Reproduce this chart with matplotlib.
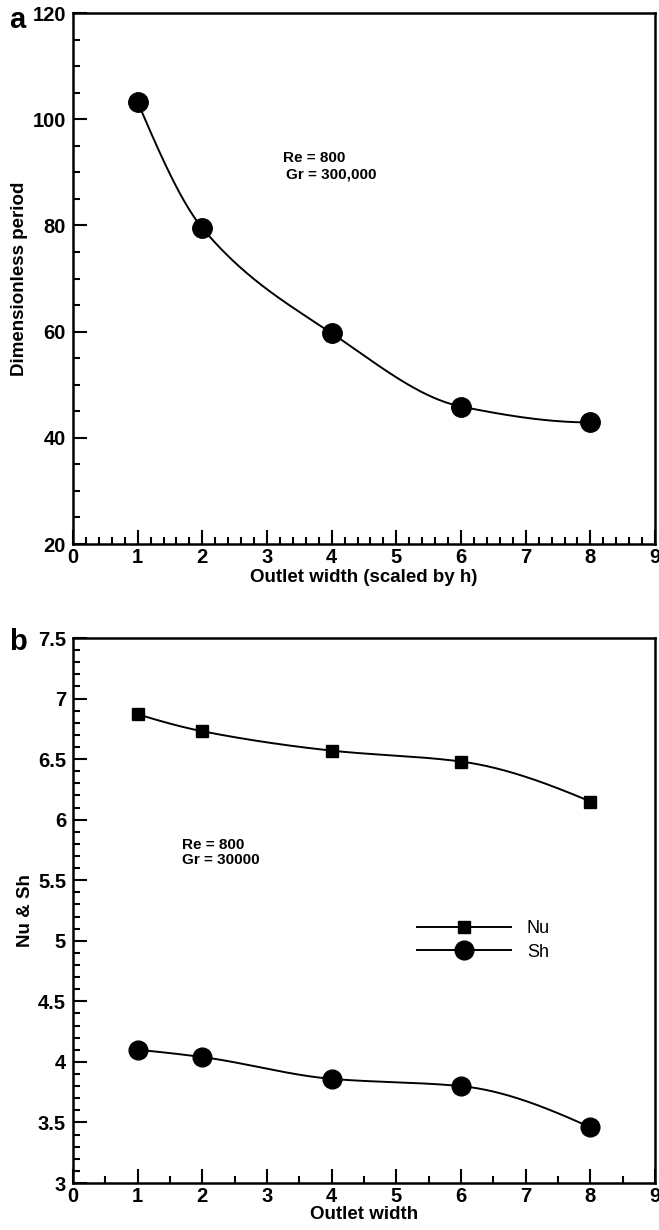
import numpy as np
import matplotlib
matplotlib.use("Agg")
import matplotlib.pyplot as plt
from matplotlib.ticker import MultipleLocator, FormatStrFormatter
from matplotlib.lines import Line2D

plt.rcParams['font.family'] = ['Liberation Sans', 'DejaVu Sans']
plt.rcParams['font.weight'] = 'bold'

# ---- data ----
outlet_width = [1, 2, 4, 6, 8]
period = [103.2, 79.5, 59.7, 45.9, 42.9]
nu = [6.87, 6.73, 6.57, 6.48, 6.15]
sh = [4.10, 4.04, 3.86, 3.80, 3.46]


def pchip(x, y, n=300):
    x = np.asarray(x, float)
    y = np.asarray(y, float)
    h = np.diff(x)
    d = np.diff(y) / h
    k = len(x)
    m = np.zeros(k)
    for i in range(1, k - 1):
        if d[i - 1] * d[i] <= 0:
            m[i] = 0
        else:
            w1 = 2 * h[i] + h[i - 1]
            w2 = h[i] + 2 * h[i - 1]
            m[i] = (w1 + w2) / (w1 / d[i - 1] + w2 / d[i])
    m[0] = ((2 * h[0] + h[1]) * d[0] - h[0] * d[1]) / (h[0] + h[1])
    if np.sign(m[0]) != np.sign(d[0]):
        m[0] = 0
    m[-1] = ((2 * h[-1] + h[-2]) * d[-1] - h[-1] * d[-2]) / (h[-1] + h[-2])
    if np.sign(m[-1]) != np.sign(d[-1]):
        m[-1] = 0
    xs = np.linspace(x[0], x[-1], n)
    ys = np.empty_like(xs)
    for j, t in enumerate(xs):
        i = min(np.searchsorted(x, t, side='right') - 1, k - 2)
        s = (t - x[i]) / h[i]
        h00 = 2 * s ** 3 - 3 * s ** 2 + 1
        h10 = s ** 3 - 2 * s ** 2 + s
        h01 = -2 * s ** 3 + 3 * s ** 2
        h11 = s ** 3 - s ** 2
        ys[j] = h00 * y[i] + h10 * h[i] * m[i] + h01 * y[i + 1] + h11 * h[i] * m[i + 1]
    return xs, ys


fig = plt.figure(figsize=(6.59, 12.30), dpi=100)
ax1 = fig.add_axes([0.1108, 0.5577, 0.8832, 0.4317])
ax2 = fig.add_axes([0.1108, 0.0382, 0.8832, 0.4431])

for ax in (ax1, ax2):
    for s in ax.spines.values():
        s.set_linewidth(1.8)
    ax.tick_params(which='both', direction='in', width=1.5, labelsize=14.5, pad=5)
    ax.tick_params(which='major', length=10)
    ax.tick_params(which='minor', length=5)
    ax.tick_params(axis='x', pad=3)
    ax.set_xlim(0, 9)
    ax.xaxis.set_major_locator(MultipleLocator(1))

# ---- panel a ----
xs, ys = pchip(outlet_width, period)
ax1.plot(xs, ys, color='black', lw=1.4)
ax1.plot(outlet_width, period, 'o', color='black', ms=14)
ax1.set_ylim(20, 120)
ax1.yaxis.set_major_locator(MultipleLocator(20))
ax1.yaxis.set_minor_locator(MultipleLocator(5))
ax1.xaxis.set_minor_locator(MultipleLocator(0.2))
ax1.set_xlabel('Outlet width (scaled by h)', fontsize=13.5, fontweight='bold', labelpad=1)
ax1.set_ylabel('Dimensionless period', fontsize=13.5, fontweight='bold', labelpad=3)
ax1.text(3.25, 92.7, 'Re = 800', fontsize=11, fontweight='bold', va='center', ha='left')
ax1.text(3.3, 89.5, 'Gr = 300,000', fontsize=11, fontweight='bold', va='center', ha='left')
fig.text(9 / 659, 1 - 28 / 1230, 'a', fontsize=21, fontweight='bold', ha='left', va='baseline')

# ---- panel b ----
xs, ys = pchip(outlet_width, nu)
ax2.plot(xs, ys, color='black', lw=1.4)
ax2.plot(outlet_width, nu, 's', color='black', ms=8.5)
xs, ys = pchip(outlet_width, sh)
ax2.plot(xs, ys, color='black', lw=1.4)
ax2.plot(outlet_width, sh, 'o', color='black', ms=13.5)
ax2.set_ylim(3, 7.5)
ax2.yaxis.set_major_locator(MultipleLocator(0.5))
ax2.yaxis.set_minor_locator(MultipleLocator(0.1))
ax2.yaxis.set_major_formatter(FormatStrFormatter('%g'))
ax2.xaxis.set_minor_locator(MultipleLocator(0.5))
ax2.set_xlabel('Outlet width', fontsize=13.5, fontweight='bold', labelpad=0)
ax2.set_ylabel('Nu & Sh', fontsize=13.5, fontweight='bold', labelpad=3)
ax2.text(1.69, 5.79, 'Re = 800', fontsize=11, fontweight='bold', va='center', ha='left')
ax2.text(1.69, 5.67, 'Gr = 30000', fontsize=11, fontweight='bold', va='center', ha='left')
fig.text(9 / 659, 1 - 650 / 1230, 'b', fontsize=21, fontweight='bold', ha='left', va='baseline')

handles = [Line2D([], [], color='black', lw=1.4, marker='s', ms=8.5),
           Line2D([], [], color='black', lw=1.4, marker='o', ms=13.5)]
leg = ax2.legend(handles, ['Nu', 'Sh'], loc='center left', bbox_to_anchor=(0.575, 0.445),
                 frameon=False, handlelength=5.2, handletextpad=0.9, borderpad=0,
                 labelspacing=0.35, prop={'weight': 'normal', 'size': 13})

fig.savefig('out.png', dpi=100)
